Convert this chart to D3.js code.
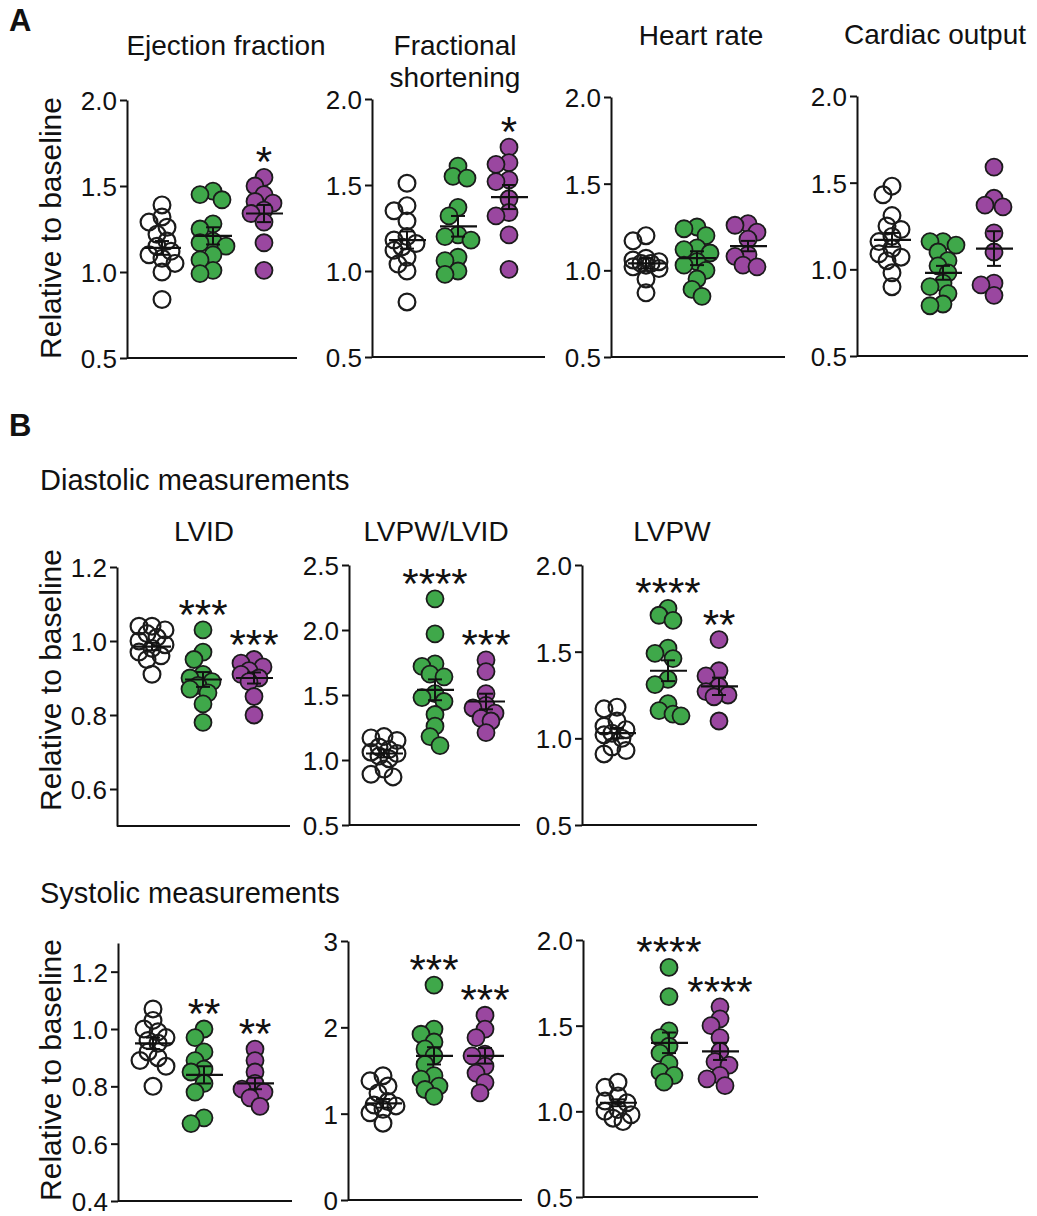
<!DOCTYPE html>
<meta charset="utf-8" />
<style>
  body { margin: 0; background: #fff; overflow: hidden; }
  svg { font-family: "Liberation Sans", Arial, sans-serif; }
</style>
<body>
<svg id="fig"></svg>
<script src="https://d3js.org/d3.v7.min.js"></script>
<script>
  var width = 1037, height = 1216;
  var groups = ["ctrl", "green", "purple"];
  var fills = { ctrl: "none", green: "#3fa84a", purple: "#9a47a0" };

  // ---- A: function, relative to baseline
  var efCtrl = [1.39, 1.32, 1.29, 1.26, 1.22, 1.18, 1.15, 1.12, 1.10, 1.08, 1.05, 1.00, 0.84];
  var efGreen = [1.47, 1.45, 1.42, 1.28, 1.25, 1.18, 1.17, 1.15, 1.10, 1.07, 1.01, 0.99];
  var efPurple = [1.55, 1.50, 1.45, 1.41, 1.40, 1.36, 1.34, 1.29, 1.17, 1.01];
  var efMean = [1.14, 1.21, 1.34], efSem = [0.04, 0.05, 0.05], efStars = ["", "", "*"];

  var fsCtrl = [1.51, 1.38, 1.35, 1.29, 1.20, 1.18, 1.16, 1.14, 1.12, 1.08, 1.04, 1.00, 0.82];
  var fsGreen = [1.61, 1.55, 1.54, 1.37, 1.32, 1.21, 1.20, 1.18, 1.08, 1.06, 1.00, 0.98];
  var fsPurple = [1.72, 1.63, 1.62, 1.53, 1.52, 1.42, 1.34, 1.32, 1.21, 1.01];
  var fsMean = [1.18, 1.26, 1.43], fsSem = [0.05, 0.06, 0.07], fsStars = ["", "", "*"];

  var hrCtrl = [1.20, 1.17, 1.07, 1.06, 1.05, 1.04, 1.04, 1.03, 1.02, 1.01, 0.95, 0.87];
  var hrGreen = [1.25, 1.24, 1.20, 1.13, 1.12, 1.10, 1.05, 1.03, 1.00, 0.95, 0.89, 0.85];
  var hrPurple = [1.27, 1.26, 1.22, 1.18, 1.09, 1.08, 1.03, 1.02];
  var hrMean = [1.04, 1.07, 1.14], hrSem = [0.03, 0.04, 0.03], hrStars = ["", "", ""];

  var coCtrl = [1.48, 1.43, 1.31, 1.25, 1.23, 1.19, 1.16, 1.12, 1.09, 1.07, 1.05, 0.98, 0.90];
  var coGreen = [1.16, 1.16, 1.14, 1.10, 1.05, 1.02, 0.98, 0.92, 0.90, 0.86, 0.80, 0.79];
  var coPurple = [1.59, 1.41, 1.37, 1.36, 1.21, 1.10, 0.92, 0.91, 0.85];
  var coMean = [1.17, 0.98, 1.12], coSem = [0.04, 0.04, 0.10], coStars = ["", "", ""];

  // ---- B: diastolic
  var dLvidCtrl = [1.04, 1.04, 1.03, 1.02, 1.01, 1.00, 0.99, 0.98, 0.97, 0.96, 0.95, 0.91];
  var dLvidGreen = [1.03, 0.97, 0.95, 0.91, 0.90, 0.89, 0.88, 0.87, 0.86, 0.83, 0.78];
  var dLvidPurple = [0.95, 0.94, 0.93, 0.92, 0.91, 0.90, 0.89, 0.85, 0.80];
  var dLvidMean = [0.985, 0.896, 0.90], dLvidSem = [0.01, 0.02, 0.015], dLvidStars = ["", "***", "***"];

  var dRatioCtrl = [1.18, 1.17, 1.15, 1.10, 1.08, 1.06, 1.05, 1.03, 1.01, 0.93, 0.89, 0.87];
  var dRatioGreen = [2.24, 1.97, 1.74, 1.72, 1.66, 1.64, 1.51, 1.48, 1.45, 1.35, 1.26, 1.18, 1.11];
  var dRatioPurple = [1.77, 1.68, 1.51, 1.42, 1.40, 1.36, 1.32, 1.30, 1.21];
  var dRatioMean = [1.05, 1.54, 1.45], dRatioSem = [0.03, 0.08, 0.06], dRatioStars = ["", "****", "***"];

  var dLvpwCtrl = [1.18, 1.17, 1.10, 1.07, 1.05, 1.03, 1.02, 1.00, 0.95, 0.93, 0.91];
  var dLvpwGreen = [1.75, 1.71, 1.68, 1.52, 1.49, 1.46, 1.34, 1.31, 1.20, 1.16, 1.14, 1.13];
  var dLvpwPurple = [1.57, 1.39, 1.36, 1.30, 1.27, 1.25, 1.24, 1.10];
  var dLvpwMean = [1.03, 1.39, 1.30], dLvpwSem = [0.03, 0.06, 0.05], dLvpwStars = ["", "****", "**"];

  // ---- B: systolic
  var sLvidCtrl = [1.07, 1.03, 1.00, 0.99, 0.97, 0.96, 0.95, 0.92, 0.90, 0.89, 0.87, 0.80];
  var sLvidGreen = [1.00, 0.97, 0.92, 0.89, 0.86, 0.85, 0.81, 0.78, 0.69, 0.67];
  var sLvidPurple = [0.93, 0.89, 0.85, 0.81, 0.79, 0.78, 0.76, 0.73];
  var sLvidMean = [0.95, 0.84, 0.81], sLvidSem = [0.02, 0.03, 0.02], sLvidStars = ["", "**", "**"];

  var sRatioCtrl = [1.44, 1.38, 1.32, 1.24, 1.14, 1.10, 1.09, 1.05, 1.01, 0.89];
  var sRatioGreen = [2.49, 1.98, 1.92, 1.83, 1.75, 1.67, 1.57, 1.44, 1.40, 1.32, 1.28, 1.20];
  var sRatioPurple = [2.14, 1.98, 1.88, 1.69, 1.67, 1.55, 1.47, 1.36, 1.24];
  var sRatioMean = [1.12, 1.67, 1.67], sRatioSem = [0.05, 0.10, 0.09], sRatioStars = ["", "***", "***"];

  var sLvpwCtrl = [1.17, 1.14, 1.09, 1.06, 1.05, 1.01, 1.00, 0.98, 0.96, 0.94];
  var sLvpwGreen = [1.84, 1.67, 1.47, 1.43, 1.38, 1.34, 1.28, 1.23, 1.21, 1.17];
  var sLvpwPurple = [1.61, 1.54, 1.50, 1.43, 1.35, 1.29, 1.27, 1.21, 1.19, 1.15];
  var sLvpwMean = [1.05, 1.40, 1.35], sLvpwSem = [0.02, 0.06, 0.05], sLvpwStars = ["", "****", "****"];

  var ticksA = [0.5, 1.0, 1.5, 2.0];
  var ticksLvid = [0.6, 0.8, 1.0, 1.2];
  var ticksRatio = [0.5, 1.0, 1.5, 2.0, 2.5];
  var ticksSLvid = [0.4, 0.6, 0.8, 1.0, 1.2];
  var ticksSRatio = [0, 1, 2, 3];

  var svg = d3.select("#fig").attr("width", width).attr("height", height);

  // layout of each small plot (axis x, y top/bottom pixels, right end of x line)
  var panels = [
    { d: [efCtrl, efGreen, efPurple], m: efMean, s: efSem, st: efStars, dom: [0.5, 2.0], ticks: ticksA, fmt: ".1f", x0: 127, yT: 100, yB: 358, xE: 297 },
    { d: [fsCtrl, fsGreen, fsPurple], m: fsMean, s: fsSem, st: fsStars, dom: [0.5, 2.0], ticks: ticksA, fmt: ".1f", x0: 372, yT: 99, yB: 357, xE: 545 },
    { d: [hrCtrl, hrGreen, hrPurple], m: hrMean, s: hrSem, st: hrStars, dom: [0.5, 2.0], ticks: ticksA, fmt: ".1f", x0: 611, yT: 97, yB: 357, xE: 785 },
    { d: [coCtrl, coGreen, coPurple], m: coMean, s: coSem, st: coStars, dom: [0.5, 2.0], ticks: ticksA, fmt: ".1f", x0: 857, yT: 96, yB: 356, xE: 1028 },
    { d: [dLvidCtrl, dLvidGreen, dLvidPurple], m: dLvidMean, s: dLvidSem, st: dLvidStars, dom: [0.5, 1.2], ticks: ticksLvid, fmt: ".1f", x0: 117, yT: 567, yB: 826, xE: 290 },
    { d: [dRatioCtrl, dRatioGreen, dRatioPurple], m: dRatioMean, s: dRatioSem, st: dRatioStars, dom: [0.5, 2.5], ticks: ticksRatio, fmt: ".1f", x0: 349, yT: 565, yB: 825, xE: 520 },
    { d: [dLvpwCtrl, dLvpwGreen, dLvpwPurple], m: dLvpwMean, s: dLvpwSem, st: dLvpwStars, dom: [0.5, 2.0], ticks: ticksA, fmt: ".1f", x0: 582, yT: 565, yB: 825, xE: 757 },
    { d: [sLvidCtrl, sLvidGreen, sLvidPurple], m: sLvidMean, s: sLvidSem, st: sLvidStars, dom: [0.4, 1.3], ticks: ticksSLvid, fmt: ".1f", x0: 118, yT: 943, yB: 1201, xE: 292 },
    { d: [sRatioCtrl, sRatioGreen, sRatioPurple], m: sRatioMean, s: sRatioSem, st: sRatioStars, dom: [0, 3], ticks: ticksSRatio, fmt: "d", x0: 348, yT: 941, yB: 1200, xE: 522 },
    { d: [sLvpwCtrl, sLvpwGreen, sLvpwPurple], m: sLvpwMean, s: sLvpwSem, st: sLvpwStars, dom: [0.5, 2.0], ticks: ticksA, fmt: ".1f", x0: 583, yT: 940, yB: 1197, xE: 758 }
  ];

  // simple deterministic swarm, heavy overlap allowed
  function swarm(vals, y, cx) {
    var placed = [];
    var offs = [0, -5, 5, -9, 9, -13, 13];
    vals.slice().sort(function(a, b) { return b - a; }).forEach(function(v) {
      var py = y(v), best = null, bestD = -1;
      for (var i = 0; i < offs.length; i++) {
        var px = cx + offs[i];
        var dmin = d3.min(placed, function(p) { return Math.hypot(p.x - px, p.y - py); });
        if (dmin === undefined) dmin = 99;
        if (dmin >= 11) { best = px; break; }
        if (dmin > bestD) { bestD = dmin; best = px; }
      }
      placed.push({ x: best, y: py, v: v });
    });
    return placed;
  }

  panels.forEach(function(p) {
    var y = d3.scaleLinear().domain(p.dom).range([p.yB, p.yT]);
    var x = d3.scalePoint().domain(groups).range([p.x0 + 35, p.x0 + 137]);
    var g = svg.append("g");

    var ax = g.append("g")
      .attr("transform", "translate(" + p.x0 + ",0)")
      .call(d3.axisLeft(y).tickValues(p.ticks).tickFormat(d3.format(p.fmt)).tickSize(7).tickPadding(3).tickSizeOuter(0));
    ax.select(".domain").attr("stroke", "#111").attr("stroke-width", 2);
    ax.selectAll(".tick line").attr("stroke", "#111").attr("stroke-width", 2);
    ax.selectAll(".tick text").attr("fill", "#111").style("font-size", "26px").attr("dy", "0.36em");

    g.append("line")
      .attr("x1", p.x0).attr("x2", p.xE)
      .attr("y1", p.yB).attr("y2", p.yB)
      .attr("stroke", "#111").attr("stroke-width", 2);

    groups.forEach(function(k, i) {
      var pts = swarm(p.d[i], y, x(k));
      g.selectAll(null).data(pts).enter().append("circle")
        .attr("cx", function(d) { return d.x; })
        .attr("cy", function(d) { return d.y; })
        .attr("r", k == "ctrl" ? 8.4 : 8.5)
        .attr("fill", fills[k])
        .attr("stroke", "#1b1b1b")
        .attr("stroke-width", k == "ctrl" ? 2.2 : 1.8);

      var cx = x(k), m = p.m[i], s = p.s[i];
      g.append("line").attr("x1", cx - 18).attr("x2", cx + 19)
        .attr("y1", y(m)).attr("y2", y(m)).attr("stroke", "#111").attr("stroke-width", 2.2);
      g.append("line").attr("x1", cx).attr("x2", cx)
        .attr("y1", y(m - s)).attr("y2", y(m + s)).attr("stroke", "#111").attr("stroke-width", 2);
      [m - s, m + s].forEach(function(e) {
        g.append("line").attr("x1", cx - 7).attr("x2", cx + 7)
          .attr("y1", y(e)).attr("y2", y(e)).attr("stroke", "#111").attr("stroke-width", 2);
      });

      if (p.st[i]) {
        g.append("text")
          .attr("x", cx)
          .attr("y", y(d3.max(p.d[i])) - 25 + 24)
          .attr("text-anchor", "middle")
          .style("font-size", "42px")
          .attr("fill", "#111")
          .text(p.st[i]);
      }
    });
  });

  // titles and labels
  var titles = [
    { t: "Ejection fraction", x: 226, y: 55 },
    { t: "Fractional", x: 455, y: 55 },
    { t: "shortening", x: 455, y: 87 },
    { t: "Heart rate", x: 701, y: 45 },
    { t: "Cardiac output", x: 935, y: 44 },
    { t: "LVID", x: 204, y: 541 },
    { t: "LVPW/LVID", x: 436, y: 541 },
    { t: "LVPW", x: 672, y: 541 }
  ];
  svg.selectAll(".ttl").data(titles).enter().append("text")
    .attr("x", function(d) { return d.x; })
    .attr("y", function(d) { return d.y; })
    .attr("text-anchor", "middle")
    .style("font-size", "28px")
    .attr("fill", "#111")
    .text(function(d) { return d.t; });

  [{ t: "Diastolic measurements", y: 490 }, { t: "Systolic measurements", y: 903 }].forEach(function(d) {
    svg.append("text").attr("x", 40).attr("y", d.y).style("font-size", "29px").attr("fill", "#111").text(d.t);
  });

  [{ t: "A", y: 31 }, { t: "B", y: 436 }].forEach(function(d) {
    svg.append("text").attr("x", 9).attr("y", d.y).style("font-size", "31px").style("font-weight", "bold").attr("fill", "#111").text(d.t);
  });

  [228, 680, 1070].forEach(function(cy) {
    svg.append("text")
      .attr("transform", "translate(61," + cy + ") rotate(-90)")
      .attr("text-anchor", "middle")
      .style("font-size", "30px")
      .attr("fill", "#111")
      .text("Relative to baseline");
  });
</script>
</body>
